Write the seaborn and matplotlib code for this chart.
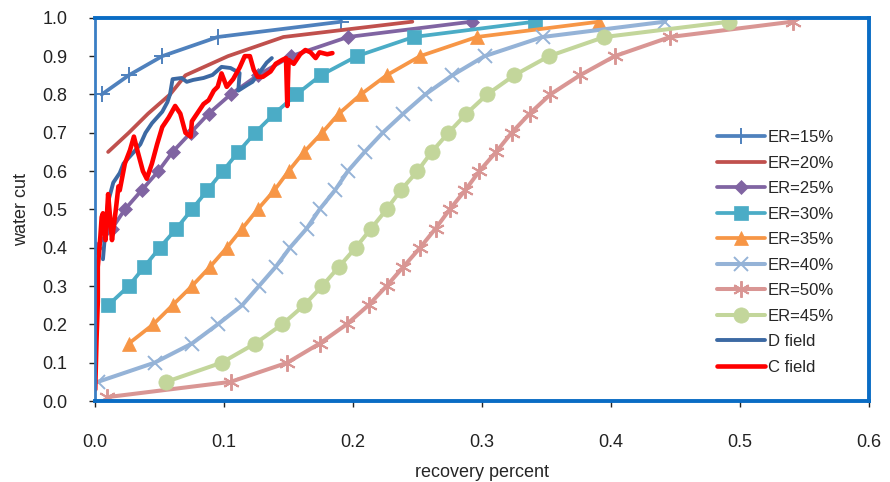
import matplotlib
matplotlib.use("Agg")
import matplotlib.pyplot as plt
import seaborn as sns
import numpy as np
import pandas as pd

# ---------------- data ----------------
er15_x = [0.005, 0.026, 0.052, 0.095, 0.191]
er15_y = [0.80, 0.85, 0.90, 0.95, 0.99]

er20_x = [0.010, 0.026, 0.041, 0.058, 0.070, 0.103, 0.146, 0.246]
er20_y = [0.65, 0.70, 0.75, 0.80, 0.85, 0.90, 0.95, 0.99]

er25_x = [0.000, 0.013, 0.023, 0.036, 0.049, 0.060, 0.074, 0.088, 0.105, 0.126, 0.152, 0.196, 0.292]
er25_y = [0.40, 0.45, 0.50, 0.55, 0.60, 0.65, 0.70, 0.75, 0.80, 0.85, 0.90, 0.95, 0.99]

er30_x = [0.010, 0.026, 0.038, 0.050, 0.063, 0.075, 0.087, 0.099, 0.111, 0.124, 0.139, 0.156, 0.175, 0.203, 0.247, 0.341]
er30_y = [0.25, 0.30, 0.35, 0.40, 0.45, 0.50, 0.55, 0.60, 0.65, 0.70, 0.75, 0.80, 0.85, 0.90, 0.95, 0.99]

er35_x = [0.026, 0.045, 0.060, 0.075, 0.089, 0.102, 0.114, 0.126, 0.139, 0.150, 0.162, 0.176, 0.189, 0.206, 0.226, 0.252, 0.296, 0.391]
er35_y = [0.15, 0.20, 0.25, 0.30, 0.35, 0.40, 0.45, 0.50, 0.55, 0.60, 0.65, 0.70, 0.75, 0.80, 0.85, 0.90, 0.95, 0.99]

er40_x = [0.002, 0.046, 0.075, 0.095, 0.114, 0.127, 0.140, 0.151, 0.164, 0.174, 0.186, 0.196, 0.209, 0.223, 0.239, 0.256, 0.277, 0.302, 0.347, 0.442]
er40_y = [0.05, 0.10, 0.15, 0.20, 0.25, 0.30, 0.35, 0.40, 0.45, 0.50, 0.55, 0.60, 0.65, 0.70, 0.75, 0.80, 0.85, 0.90, 0.95, 0.99]

er50_x = [0.009, 0.105, 0.149, 0.174, 0.195, 0.212, 0.226, 0.239, 0.252, 0.264, 0.275, 0.287, 0.298, 0.311, 0.323, 0.337, 0.353, 0.376, 0.403, 0.446, 0.541]
er50_y = [0.01, 0.05, 0.10, 0.15, 0.20, 0.25, 0.30, 0.35, 0.40, 0.45, 0.50, 0.55, 0.60, 0.65, 0.70, 0.75, 0.80, 0.85, 0.90, 0.95, 0.99]

er45_x = [0.055, 0.098, 0.124, 0.145, 0.162, 0.176, 0.189, 0.202, 0.214, 0.226, 0.237, 0.250, 0.261, 0.274, 0.288, 0.304, 0.325, 0.352, 0.395, 0.492]
er45_y = [0.05, 0.10, 0.15, 0.20, 0.25, 0.30, 0.35, 0.40, 0.45, 0.50, 0.55, 0.60, 0.65, 0.70, 0.75, 0.80, 0.85, 0.90, 0.95, 0.99]

d_x = [0.006, 0.008, 0.010, 0.014, 0.019, 0.022, 0.030, 0.035, 0.039, 0.044, 0.048, 0.052, 0.056, 0.058,
       0.060, 0.067, 0.071, 0.076, 0.084, 0.091, 0.098, 0.105, 0.112, 0.111, 0.118, 0.122, 0.128, 0.133, 0.137]
d_y = [0.37, 0.45, 0.52, 0.57, 0.595, 0.62, 0.65, 0.67, 0.70, 0.725, 0.74, 0.755, 0.78, 0.80,
       0.84, 0.843, 0.833, 0.838, 0.843, 0.851, 0.872, 0.869, 0.856, 0.81, 0.825, 0.833, 0.86, 0.883, 0.895]

c_x = [0.000, 0.001, 0.002, 0.002, 0.004, 0.005, 0.006, 0.008, 0.010, 0.012, 0.013, 0.016, 0.018, 0.019,
       0.023, 0.027, 0.030, 0.033, 0.037, 0.040, 0.044, 0.048, 0.052, 0.057, 0.062, 0.066, 0.070, 0.074,
       0.075, 0.079, 0.084, 0.088, 0.092, 0.095, 0.098, 0.102, 0.107, 0.112, 0.116, 0.120, 0.123, 0.126,
       0.130, 0.136, 0.140, 0.145, 0.148, 0.149, 0.150, 0.154, 0.159, 0.163, 0.167, 0.171, 0.174, 0.180, 0.184]
c_y = [0.03, 0.16, 0.26, 0.35, 0.43, 0.48, 0.49, 0.42, 0.54, 0.46, 0.42, 0.50, 0.56, 0.55,
       0.62, 0.655, 0.69, 0.65, 0.60, 0.58, 0.62, 0.67, 0.715, 0.74, 0.77, 0.75, 0.70, 0.69,
       0.73, 0.75, 0.775, 0.785, 0.81, 0.82, 0.855, 0.82, 0.84, 0.87, 0.90, 0.90, 0.864, 0.846,
       0.846, 0.86, 0.88, 0.89, 0.895, 0.77, 0.89, 0.88, 0.905, 0.916, 0.91, 0.895, 0.91, 0.905, 0.908]

x_ticks = [0.0, 0.1, 0.2, 0.3, 0.4, 0.5, 0.6]
y_ticks = [0.0, 0.1, 0.2, 0.3, 0.4, 0.5, 0.6, 0.7, 0.8, 0.9, 1.0]

# ---------------- plot ----------------
sns.set_theme(style="white")
plt.rcParams['font.family'] = ['Liberation Sans', 'DejaVu Sans']

fig = plt.figure(figsize=(8.9, 4.82), dpi=100)
ax = fig.add_axes([0.107, 0.168, 0.869, 0.795])

series = [
    ("ER=15%", er15_x, er15_y, "#4f81bd", "+", 11, 2.7),
    ("ER=20%", er20_x, er20_y, "#c0504d", None, 0, 2.7),
    ("ER=25%", er25_x, er25_y, "#8064a2", "D", 7.5, 2.7),
    ("ER=30%", er30_x, er30_y, "#4bacc6", "s", 10.5, 2.7),
    ("ER=35%", er35_x, er35_y, "#f79646", "^", 10.5, 2.7),
    ("ER=40%", er40_x, er40_y, "#95b3d7", "x", 10, 2.9),
    ("ER=50%", er50_x, er50_y, "#d99694", (6, 2, 0), 12, 2.9),
    ("ER=45%", er45_x, er45_y, "#c3d69b", "o", 11, 2.9),
]

for label, xs, ys, col, mk, ms, lw in series:
    df = pd.DataFrame({"x": xs, "y": ys})
    kw = {}
    if mk is not None:
        kw = dict(marker=mk, markersize=ms, markeredgecolor=col, markerfacecolor=col,
                  markeredgewidth=1.4 if mk in ("+", "x", (6, 2, 0)) else 0.5)
    sns.lineplot(data=df, x="x", y="y", ax=ax, color=col, linewidth=lw, label=label,
                 sort=False, estimator=None, **kw)

sns.lineplot(data=pd.DataFrame({"x": d_x, "y": d_y}), x="x", y="y", ax=ax, color="#3c69a3",
             linewidth=2.8, label="D field", sort=False, estimator=None)
sns.lineplot(data=pd.DataFrame({"x": c_x, "y": c_y}), x="x", y="y", ax=ax, color="#ff0000",
             linewidth=3.3, label="C field", sort=False, estimator=None)

ax.set_xlim(0, 0.6)
ax.set_ylim(0, 1.0)
ax.set_xticks(x_ticks)
ax.set_yticks(y_ticks)
ax.set_xticklabels([f"{v:.1f}" for v in x_ticks])
ax.set_yticklabels([f"{v:.1f}" for v in y_ticks])
ax.tick_params(axis="both", labelsize=13, colors="#222222", length=4, width=1,
               direction="out", bottom=True, left=True)
ax.tick_params(axis="x", pad=20)
ax.tick_params(axis="y", pad=16)
for t in ax.get_xticklines() + ax.get_yticklines():
    t.set_color("#888888")

ax.set_xlabel("recovery percent", fontsize=13, labelpad=9)
ax.set_ylabel("water cut", fontsize=13, labelpad=9)

for name, sp in ax.spines.items():
    sp.set_visible(True)
    sp.set_color("#0a6cc4")
    sp.set_linewidth(2.8)
ax.spines["left"].set_linewidth(2.0)
ax.spines["left"].set_color("#3a7ec4")

ax.grid(False)
leg = ax.legend(loc="upper left", bbox_to_anchor=(0.796, 0.747), bbox_transform=fig.transFigure,
                frameon=False, fontsize=12, handlelength=2.9, handletextpad=0.15,
                labelspacing=0.63, borderpad=0)

fig.savefig("out.png", dpi=100)
